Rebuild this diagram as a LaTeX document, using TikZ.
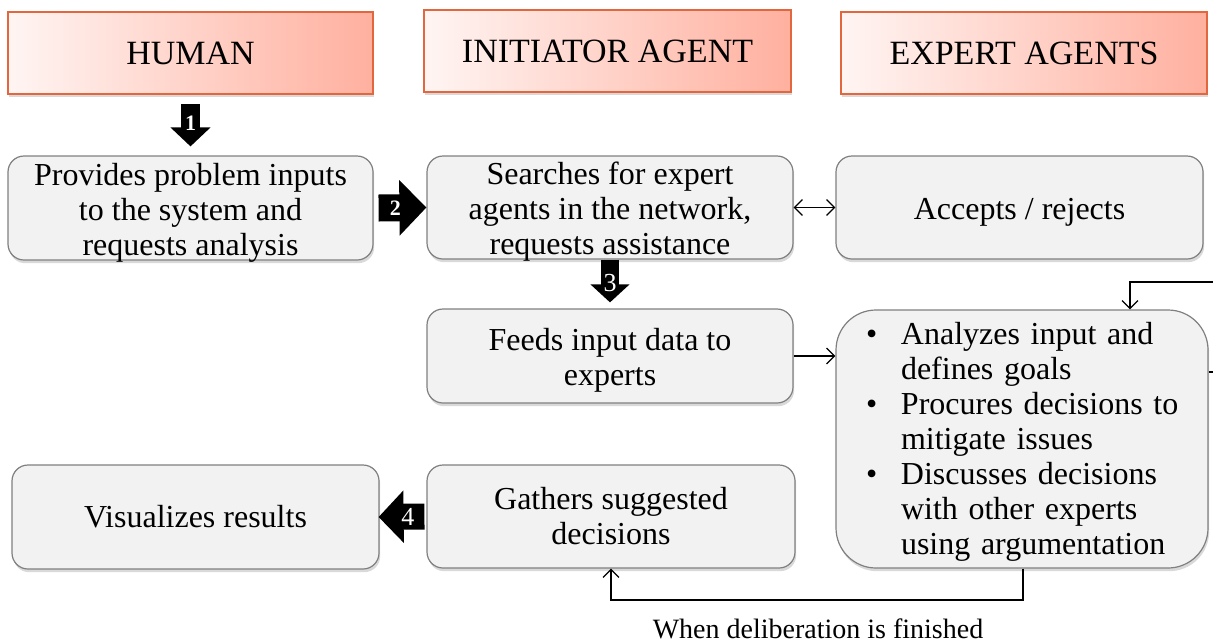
\documentclass[tikz,border=0pt]{standalone}
\usepackage{fontspec}
\setmainfont{Liberation Serif}
\usetikzlibrary{shadows,arrows.meta,calc}
\definecolor{boxfill}{HTML}{F2F2F2}
\definecolor{boxline}{HTML}{808080}
\definecolor{hdline}{HTML}{E2673F}
\definecolor{hdleft}{HTML}{FFF5F3}
\definecolor{hdright}{HTML}{FFB09F}
\newcommand\topfix{\rule{0pt}{15.5pt}}
\begin{document}
\begin{tikzpicture}[x=0.5pt,y=-0.5pt,
  header/.style={rectangle, draw=hdline, line width=0.75pt, left color=hdleft, right color=hdright,
    drop shadow={shadow xshift=0.6pt, shadow yshift=-1.6pt, opacity=0.3},
    font=\fontsize{17}{20}\selectfont, inner sep=0pt},
  proc/.style={rectangle, rounded corners=8pt, draw=boxline, line width=0.6pt, fill=boxfill,
    drop shadow={shadow xshift=0.6pt, shadow yshift=-1.6pt, opacity=0.3},
    font=\fontsize{16}{17.5}\selectfont, align=center, inner xsep=0pt, inner ysep=-4pt},
  link/.style={line width=0.6pt, -{Straight Barb[length=4pt,width=8pt]}},
  blockarr/.style={draw=black, line width=#1},
  num/.style={text=white, inner sep=0pt}
]
\clip (0,0) rectangle (1213,643);

% headers
\node[header, minimum width=182.5pt, minimum height=41pt] (hum) at (190.5,53) {HUMAN};
\node[header, minimum width=183.5pt, minimum height=41pt] (ini) at (607.5,51) {INITIATOR AGENT};
\node[header, minimum width=183pt, minimum height=41pt] (expt) at (1024,53) {EXPERT AGENTS};

% process boxes
\node[proc, minimum width=182.5pt, minimum height=52pt] (prov) at (190.5,208)
  {\topfix Provides problem inputs\\to the system and\\requests analysis};
\node[proc, minimum width=183pt, minimum height=51.5pt] (search) at (610,207.5)
  {\topfix Searches for expert\\agents in the network,\\requests assistance};
\node[proc, minimum width=183.5pt, minimum height=51.5pt] (accept) at (1019.5,207.5)
  {\topfix Accepts / rejects};
\node[proc, minimum width=183pt, minimum height=47pt] (feeds) at (610,356)
  {\topfix Feeds input data to\\experts};
\node[proc, rounded corners=20pt, minimum width=186pt, minimum height=129pt,
      align=left, text width=156pt, inner xsep=15pt] (exp) at (1022,439)
  {\begin{tabular}{@{}p{17.5pt}@{}l@{}}
   \textbullet & \topfix Analyzes input and\\
               & defines goals\\
   \textbullet & Procures decisions to\\
               & mitigate issues\\
   \textbullet & Discusses decisions\\
               & with other experts\\
               & using argumentation
   \end{tabular}};
\node[proc, minimum width=183.5pt, minimum height=52pt] (vis) at (195.5,517)
  {Visualizes results};
\node[proc, minimum width=184pt, minimum height=51.5pt] (gath) at (611,516.5)
  {Gathers suggested\\decisions};

% block arrows
\draw[blockarr=9.5pt, -{Triangle[length=9.5pt,width=19.5pt]}]
  ($(hum.south)+(0,9)$) -- ($(prov.north)+(0,-9)$)
  node[num, pos=0.45, font=\bfseries\fontsize{11}{12}\selectfont] (n1) {1};
\draw[blockarr=13.5pt, -{Triangle[length=13.5pt,width=27pt]}]
  ($(prov.east)+(5,0)$) -- (search.west)
  node[num, pos=0.35, font=\bfseries\fontsize{11}{12}\selectfont] (n2) {2};
\draw[blockarr=9pt, -{Triangle[length=9pt,width=19pt]}]
  (search.south) -- ($(feeds.north)+(0,-6)$)
  node[num, pos=0.55, font=\fontsize{13}{14}\selectfont] (n3) {3};
\draw[blockarr=13pt, -{Triangle[length=12.5pt,width=25.5pt]}]
  ($(gath.west)+(-2,0)$) -- ($(vis.east)+(-1,0)$)
  node[num, pos=0.36, font=\fontsize{13}{14}\selectfont] (n4) {4};

% thin connectors
\draw[link, {Straight Barb[length=4pt,width=8pt]}-{Straight Barb[length=4pt,width=8pt]}]
  (search.east) -- (accept.west);
\draw[link] (feeds.east) -- (feeds.east -| exp.west);
\coordinate (loopA) at (1240,372);
\coordinate (loopB) at (1240,282);
\draw[link] (exp.east |- loopA) -- (loopA) -- (loopB) -| (exp.north -| 1130,0);
\coordinate (botR) at (1023,600);
\draw[link] (exp.south -| botR) -- (botR) -| (gath.south);

\node[font=\fontsize{14}{16}\selectfont, anchor=base] (lbl) at (818,638) {When deliberation is finished};
\end{tikzpicture}
\end{document}
